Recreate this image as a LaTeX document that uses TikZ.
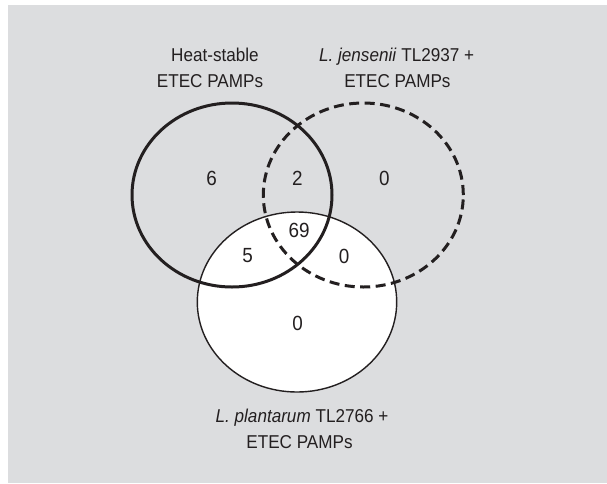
\documentclass[tikz,border=0pt]{standalone}
\usepackage{fontspec}
\setmainfont{Liberation Sans}[FakeStretch=0.92]
\definecolor{bggray}{RGB}{220,221,223}
\definecolor{ink}{RGB}{35,31,32}
\tikzset{
  lbl/.style={anchor=base, inner sep=0pt, text=ink, font=\fontsize{18.6}{22}\selectfont},
  num/.style={anchor=center, inner sep=0pt, text=ink, font=\fontsize{20.5}{24}\selectfont},
  setA/.style={draw=ink, line width=3pt},
  setB/.style={draw=ink, line width=3pt, dash pattern=on 10pt off 5.5pt},
  setC/.style={draw=ink, line width=1.4pt, fill=white},
}
\begin{document}
\begin{tikzpicture}[x=1pt,y=-1pt]
\useasboundingbox (0,0) rectangle (607,483);
\fill[bggray] (8,5) rectangle (607,483);
% lower circle (filled white)
\draw[setC] (297,302) ellipse [x radius=99.7pt, y radius=90pt];
% solid circle
\draw[setA] (232,195) ellipse [x radius=100pt, y radius=92pt];
% dashed circle
\draw[setB] (363.3,195) ellipse [x radius=100pt, y radius=92pt];
% labels
\node[lbl] (a1) at (215,61) {Heat-stable};
\node[lbl] (a2) at (210,87) {ETEC PAMPs};
\node[lbl] (b1) at (396.6,61) {\textit{L. jensenii} TL2937 +};
\node[lbl] (b2) at (397.4,87) {ETEC PAMPs};
\node[lbl] (c1) at (302,422) {\textit{L. plantarum} TL2766 +};
\node[lbl] (c2) at (299.5,448) {ETEC PAMPs};
% numbers
\node[num] (nA) at (211.7,178.3) {6};
\node[num] (nAB) at (297.3,178.3) {2};
\node[num] (nB) at (384.3,178.3) {0};
\node[num] (nABC) at (299,230) {69};
\node[num] (nAC) at (247.7,256) {5};
\node[num] (nBC) at (344,256) {0};
\node[num] (nC) at (297.7,323.3) {0};
\end{tikzpicture}
\end{document}
